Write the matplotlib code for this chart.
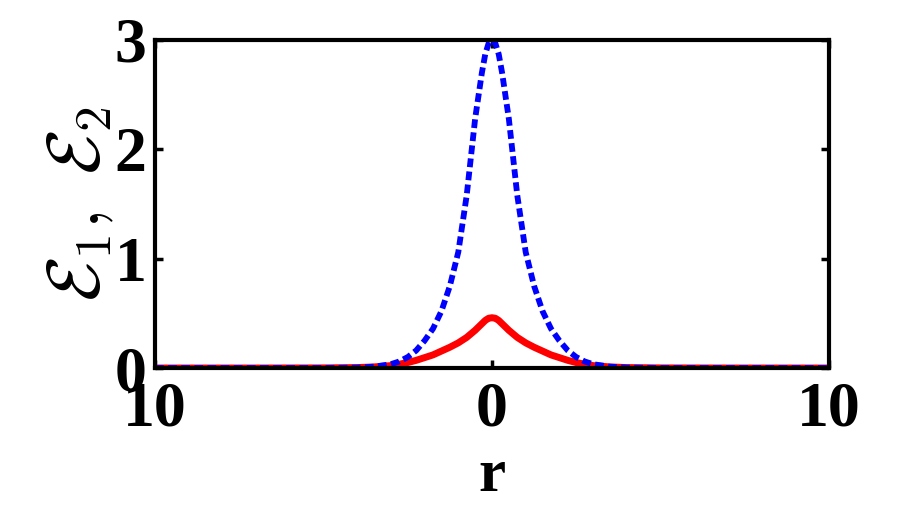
import matplotlib
matplotlib.use("Agg")
import matplotlib.pyplot as plt
import numpy as np

# values (symmetric about r = 0)
r_half = [0, 0.1, 0.2, 0.3, 0.5, 0.75, 1.0, 1.25, 1.5, 1.75, 2.0, 2.25, 2.5, 2.75, 3.0, 3.5, 4.0, 5.0, 7.0, 10.0]
e2_half = [3.0, 2.97, 2.87, 2.70, 2.28, 1.58, 1.06, 0.75, 0.52, 0.36, 0.25, 0.16, 0.10, 0.06, 0.035, 0.012, 0.004, 0.0, 0.0, 0.0]
e1_half = [0.46, 0.455, 0.435, 0.405, 0.345, 0.28, 0.23, 0.19, 0.155, 0.12, 0.095, 0.07, 0.05, 0.035, 0.022, 0.01, 0.004, 0.001, 0.0, 0.0]

x_ticks = [-10, 0, 10]
x_tick_labels = ["10", "0", "10"]
y_ticks = [0, 1, 2, 3]

r = np.concatenate([-np.array(r_half[:0:-1]), r_half])
e1 = np.concatenate([e1_half[:0:-1], e1_half])
e2 = np.concatenate([e2_half[:0:-1], e2_half])

plt.rcParams['font.family'] = ['Liberation Serif', 'DejaVu Serif']
plt.rcParams['font.weight'] = 'bold'
plt.rcParams['mathtext.fontset'] = 'cm'

fig = plt.figure(figsize=(9.16, 5.16), dpi=100)
ax = fig.add_axes([0.1692, 0.2868, 0.7358, 0.6357])

ax.plot(r, e1, color='#ff0000', lw=5.0, solid_joinstyle='round')
ax.plot(r, e2, color='#0000ff', lw=4.2, linestyle=(0, (1.5, 0.75)))

ax.set_xlim(-10, 10)
ax.set_ylim(0, 3)
ax.set_xticks(x_ticks)
ax.set_xticklabels(x_tick_labels)
ax.set_yticks(y_ticks)

for s in ax.spines.values():
    s.set_linewidth(3)
ax.tick_params(direction='in', length=6, width=2.5, top=True, right=True,
               labelsize=46, pad=10)
ax.tick_params(axis='y', pad=6)

ax.set_xlabel('r', fontsize=44, fontweight='bold', labelpad=6)
ax.set_ylabel(r'$\mathcal{E}_1,\ \mathcal{E}_2$', fontsize=53, labelpad=0)

fig.savefig('out.png', dpi=100)
